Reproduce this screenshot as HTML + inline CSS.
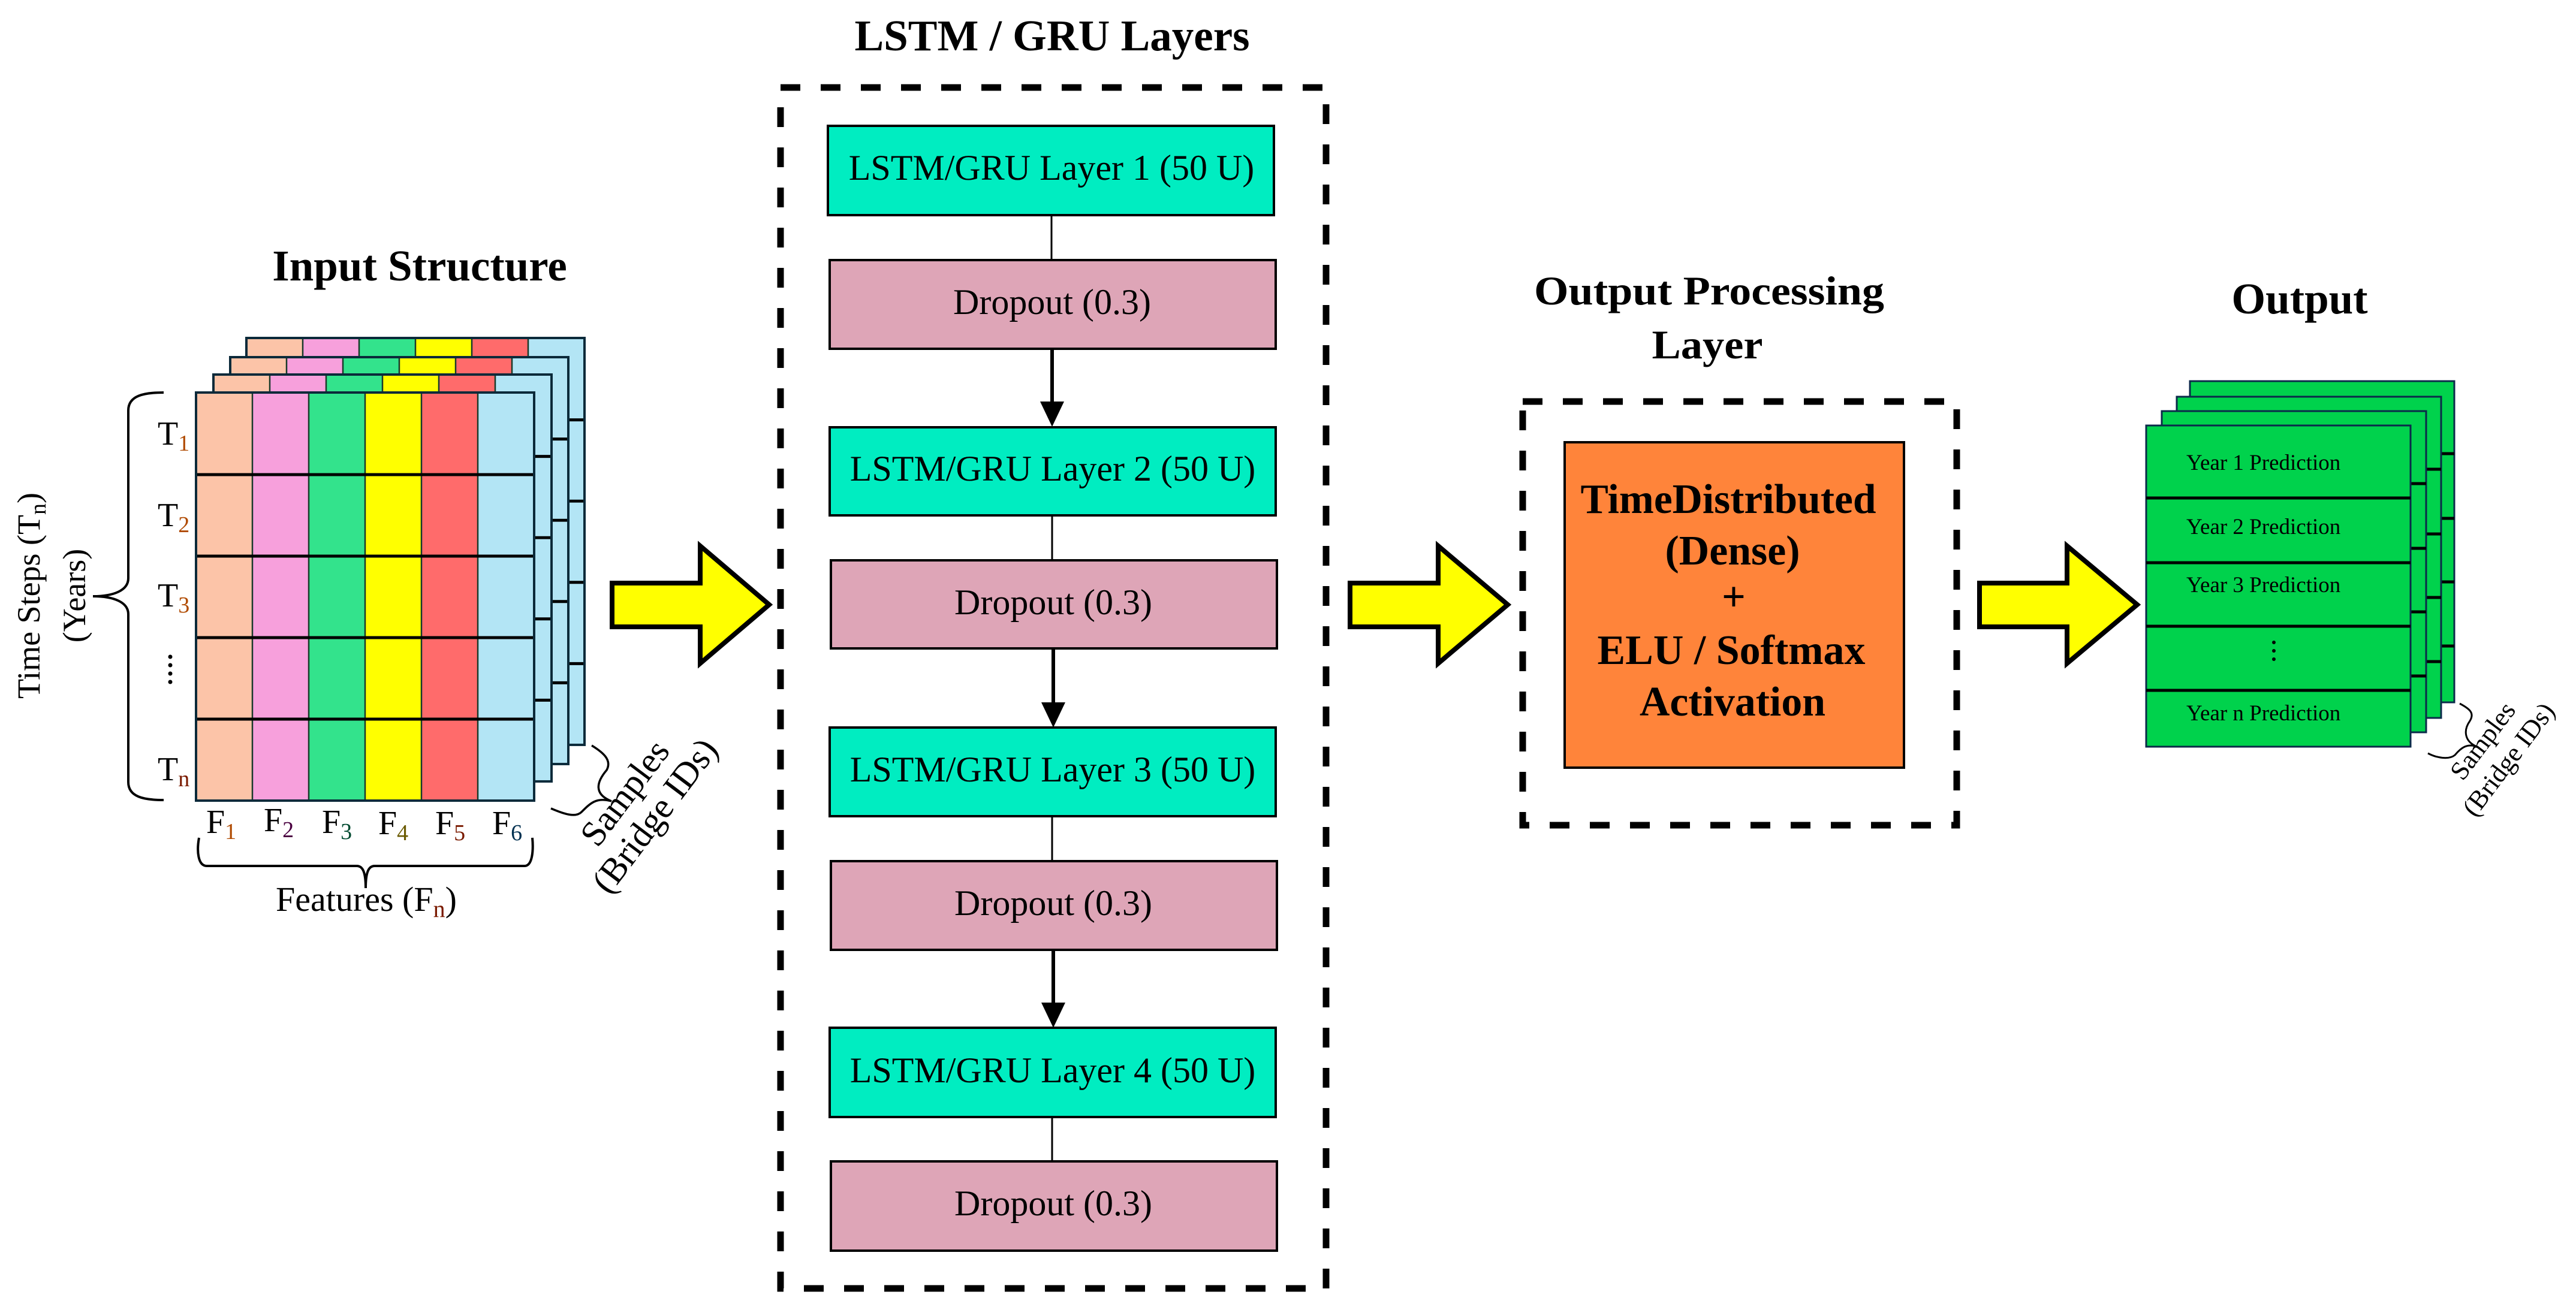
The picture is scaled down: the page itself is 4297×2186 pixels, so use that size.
<!DOCTYPE html>
<html><head><meta charset="utf-8"><style>
html,body{margin:0;padding:0;background:#fff;}
svg{display:block;}
text{font-family:"Liberation Serif","DejaVu Serif",serif;}
</style></head><body>
<svg width="4297" height="2186" viewBox="0 0 4297 2186" xmlns="http://www.w3.org/2000/svg" font-family="'Liberation Serif', 'DejaVu Serif', serif">
<defs>
<g id="grid">
<rect x="0" y="0" width="94" height="681" fill="#FCC4A8"/>
<rect x="94" y="0" width="94" height="681" fill="#F7A0DC"/>
<rect x="188" y="0" width="94" height="681" fill="#33E38C"/>
<rect x="282" y="0" width="94" height="681" fill="#FFFF00"/>
<rect x="376" y="0" width="94" height="681" fill="#FF6B6B"/>
<rect x="470" y="0" width="94" height="681" fill="#B3E5F5"/>
<g stroke="#1a3a2a" stroke-width="2.5"><line x1="94" y1="0" x2="94" y2="681"/><line x1="188" y1="0" x2="188" y2="681"/><line x1="282" y1="0" x2="282" y2="681"/><line x1="376" y1="0" x2="376" y2="681"/><line x1="470" y1="0" x2="470" y2="681"/></g>
<g stroke="#000" stroke-width="5"><line x1="0" y1="137" x2="564" y2="137"/><line x1="0" y1="273" x2="564" y2="273"/><line x1="0" y1="409" x2="564" y2="409"/><line x1="0" y1="545" x2="564" y2="545"/></g>
<rect x="0" y="0" width="564" height="681" fill="none" stroke="#0b2a3a" stroke-width="4"/>
</g>
<g id="ogrid">
<rect x="0" y="0" width="441" height="536" fill="#00D24C" stroke="#0b2a4a" stroke-width="3"/>
<g stroke="#000" stroke-width="5"><line x1="0" y1="121" x2="441" y2="121"/><line x1="0" y1="229" x2="441" y2="229"/><line x1="0" y1="335" x2="441" y2="335"/><line x1="0" y1="442" x2="441" y2="442"/></g>
</g>
</defs>

<!-- Input Structure -->
<text x="700" y="468" font-size="73" font-weight="bold" text-anchor="middle">Input Structure</text>
<use href="#grid" transform="translate(411,564) scale(1,0.997)"/>
<use href="#grid" transform="translate(384,596) scale(1,0.997)"/>
<use href="#grid" transform="translate(356,625) scale(1,0.997)"/>
<use href="#grid" transform="translate(327,655)"/>

<path d="M273,655 C240,655 214,660 214,685 L214,965 C214,985 190,995 155,995 C190,995 214,1005 214,1025 L214,1305 C214,1330 240,1335 273,1335" fill="none" stroke="#000" stroke-width="4"/>
<text transform="translate(66,994) rotate(-90)" font-size="54" text-anchor="middle">Time Steps (T<tspan font-size="38" dy="10">n</tspan><tspan dy="-10">)</tspan></text>
<text transform="translate(142,994) rotate(-90)" font-size="54" text-anchor="middle">(Years)</text>

<g font-size="56">
<text x="263" y="742">T<tspan font-size="38" dy="10" fill="#B04A00">1</tspan></text>
<text x="263" y="878">T<tspan font-size="38" dy="10" fill="#B04A00">2</tspan></text>
<text x="263" y="1012">T<tspan font-size="38" dy="10" fill="#B04A00">3</tspan></text>
<text x="263" y="1302">T<tspan font-size="38" dy="10" fill="#7a1a00">n</tspan></text>
</g>
<g fill="#000"><circle cx="284" cy="1096" r="3.5"/><circle cx="284" cy="1110" r="3.5"/><circle cx="284" cy="1124" r="3.5"/><circle cx="284" cy="1138" r="3.5"/></g>

<g font-size="56">
<text x="344" y="1390">F<tspan font-size="38" dy="10" fill="#B04A00">1</tspan></text>
<text x="440" y="1387">F<tspan font-size="38" dy="10" fill="#4a0040">2</tspan></text>
<text x="537" y="1390">F<tspan font-size="38" dy="10" fill="#004a30">3</tspan></text>
<text x="631" y="1392">F<tspan font-size="38" dy="10" fill="#6a5a00">4</tspan></text>
<text x="726" y="1392">F<tspan font-size="38" dy="10" fill="#7a1a00">5</tspan></text>
<text x="821" y="1392">F<tspan font-size="38" dy="10" fill="#003050">6</tspan></text>
</g>
<path d="M332,1398 C328,1420 330,1445 345,1445 L595,1445 C605,1445 610,1455 610,1482 C610,1455 615,1445 625,1445 L875,1445 C888,1445 890,1420 888,1398" fill="none" stroke="#000" stroke-width="4"/>
<text x="611" y="1520" font-size="58" text-anchor="middle">Features (F<tspan font-size="40" dy="10" fill="#7a1a00">n</tspan><tspan dy="-10">)</tspan></text>

<path d="M987,1244 C1010,1258 1020,1270 1012,1285 C995,1305 990,1325 1020,1337 C995,1330 985,1340 970,1355 C960,1365 940,1358 919,1349" fill="none" stroke="#000" stroke-width="3.5"/>
<text transform="translate(1058,1335) rotate(-53)" font-size="60" text-anchor="middle">Samples</text>
<text transform="translate(1108,1373) rotate(-53)" font-size="60" text-anchor="middle">(Bridge IDs)</text>

<!-- Yellow arrows -->
<g fill="#FFFF00" stroke="#000" stroke-width="8" stroke-linejoin="miter">
<path d="M1021,973 L1168,973 L1168,911 L1283,1009 L1168,1107 L1168,1046 L1021,1046 Z"/>
<path d="M2252,973 L2399,973 L2399,911 L2515,1009 L2399,1107 L2399,1046 L2252,1046 Z"/>
<path d="M3302,973 L3448,973 L3448,911 L3565,1009 L3448,1107 L3448,1046 L3302,1046 Z"/>
</g>

<!-- LSTM / GRU -->
<text x="1755" y="84" font-size="73" font-weight="bold" text-anchor="middle">LSTM / GRU Layers</text>
<rect x="1302" y="146" width="910" height="2004" fill="none" stroke="#000" stroke-width="11" stroke-dasharray="33,34"/>
<g stroke="#000" stroke-width="3">
<line x1="1754" y1="359" x2="1754" y2="434"/>
<line x1="1755" y1="860" x2="1755" y2="935"/>
<line x1="1755" y1="1362" x2="1755" y2="1437"/>
<line x1="1755" y1="1864" x2="1755" y2="1938"/>
</g>
<g stroke="#000" stroke-width="6">
<line x1="1755" y1="582" x2="1755" y2="680"/>
<line x1="1757" y1="1082" x2="1757" y2="1180"/>
<line x1="1757" y1="1585" x2="1757" y2="1683"/>
</g>
<g fill="#000">
<path d="M1735,670 L1775,670 L1755,712 Z"/>
<path d="M1737,1172 L1777,1172 L1757,1214 Z"/>
<path d="M1737,1673 L1777,1673 L1757,1715 Z"/>
</g>
<g stroke="#000" stroke-width="4">
<rect x="1381" y="210" width="744" height="149" fill="#00EDC1"/>
<rect x="1384" y="434" width="744" height="148" fill="#DEA5B7"/>
<rect x="1384" y="713" width="744" height="147" fill="#00EDC1"/>
<rect x="1386" y="935" width="744" height="147" fill="#DEA5B7"/>
<rect x="1384" y="1214" width="744" height="148" fill="#00EDC1"/>
<rect x="1386" y="1437" width="744" height="148" fill="#DEA5B7"/>
<rect x="1384" y="1715" width="744" height="149" fill="#00EDC1"/>
<rect x="1386" y="1938" width="744" height="149" fill="#DEA5B7"/>
</g>
<g font-size="60" text-anchor="middle">
<text x="1754" y="300">LSTM/GRU Layer 1 (50 U)</text>
<text x="1755" y="524">Dropout (0.3)</text>
<text x="1756" y="802">LSTM/GRU Layer 2 (50 U)</text>
<text x="1757" y="1025">Dropout (0.3)</text>
<text x="1756" y="1304">LSTM/GRU Layer 3 (50 U)</text>
<text x="1757" y="1527">Dropout (0.3)</text>
<text x="1756" y="1806">LSTM/GRU Layer 4 (50 U)</text>
<text x="1757" y="2028">Dropout (0.3)</text>
</g>

<!-- Output Processing -->
<text x="2851" y="508" font-size="68" font-weight="bold" text-anchor="middle" textLength="584" lengthAdjust="spacingAndGlyphs">Output Processing</text>
<text x="2848" y="598" font-size="68" font-weight="bold" text-anchor="middle" textLength="185" lengthAdjust="spacingAndGlyphs">Layer</text>
<rect x="2540" y="670" width="724" height="707" fill="none" stroke="#000" stroke-width="11" stroke-dasharray="33,34"/>
<rect x="2610" y="738" width="566" height="543" fill="#FF843A" stroke="#000" stroke-width="4"/>
<g font-size="70" font-weight="bold" text-anchor="middle">
<text x="2883" y="856" textLength="493" lengthAdjust="spacingAndGlyphs">TimeDistributed</text>
<text x="2890" y="942" textLength="225" lengthAdjust="spacingAndGlyphs">(Dense)</text>
<text x="2892" y="1019">+</text>
<text x="2888" y="1108" textLength="447" lengthAdjust="spacingAndGlyphs">ELU / Softmax</text>
<text x="2890" y="1194" textLength="310" lengthAdjust="spacingAndGlyphs">Activation</text>
</g>

<!-- Output -->
<text x="3836" y="523" font-size="73" font-weight="bold" text-anchor="middle">Output</text>
<use href="#ogrid" transform="translate(3653,636)"/>
<use href="#ogrid" transform="translate(3631,662)"/>
<use href="#ogrid" transform="translate(3606,686)"/>
<use href="#ogrid" transform="translate(3580,710)"/>
<g font-size="37">
<text x="3647" y="784">Year 1 Prediction</text>
<text x="3647" y="891">Year 2 Prediction</text>
<text x="3647" y="988">Year 3 Prediction</text>
<text x="3647" y="1202">Year n Prediction</text>
</g>
<g fill="#000"><circle cx="3793" cy="1072" r="3"/><circle cx="3793" cy="1086" r="3"/><circle cx="3793" cy="1100" r="3"/></g>
<path d="M4103,1174 C4120,1183 4128,1190 4120,1203 C4108,1220 4112,1238 4132,1246 C4115,1240 4105,1248 4095,1260 C4085,1268 4065,1265 4050,1257" fill="none" stroke="#000" stroke-width="3"/>
<text transform="translate(4153,1245) rotate(-53)" font-size="44" text-anchor="middle">Samples</text>
<text transform="translate(4196,1276) rotate(-53)" font-size="44" text-anchor="middle">(Bridge IDs)</text>
</svg>
</body></html>
